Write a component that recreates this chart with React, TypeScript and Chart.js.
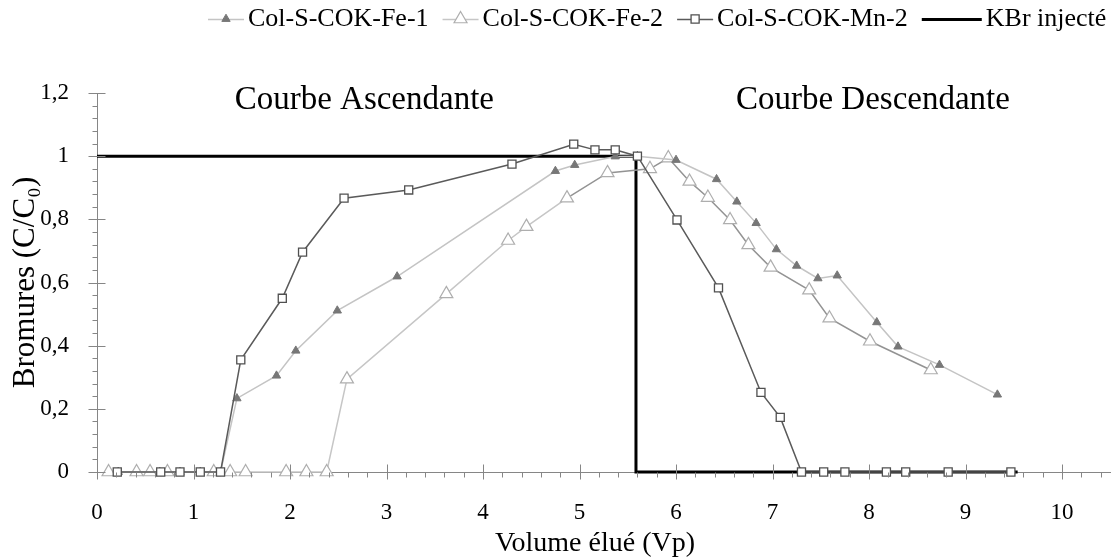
import React, { useEffect, useRef } from "react";
import { Chart, registerables } from "chart.js";

Chart.register(...registerables);

// ---- Data ----
const seriesNames = ["Col-S-COK-Fe-1", "Col-S-COK-Fe-2", "Col-S-COK-Mn-2", "KBr injecté"];

const fe1Volume = [0.22, 0.65, 0.86, 1.07, 1.28, 1.45, 1.86, 2.06, 2.49, 3.11, 4.75, 4.95, 5.37, 5.6, 6.0, 6.42, 6.63, 6.83, 7.04, 7.25, 7.47, 7.67, 8.08, 8.3, 8.73, 9.33];
const fe1Bromure = [0, 0, 0, 0, 0, 0.233, 0.305, 0.384, 0.511, 0.619, 0.953, 0.972, 0.999, 1.0, 0.988, 0.927, 0.856, 0.788, 0.705, 0.653, 0.613, 0.622, 0.474, 0.397, 0.339, 0.245];

const fe2Volume = [0.12, 0.41, 0.55, 0.73, 1.21, 1.38, 1.54, 1.96, 2.17, 2.38, 2.59, 3.62, 4.26, 4.45, 4.87, 5.29, 5.73, 5.92, 6.14, 6.33, 6.56, 6.75, 6.98, 7.38, 7.59, 8.01, 8.64];
const fe2Bromure = [0, 0, 0, 0, 0, 0, 0, 0, 0, 0, 0.294, 0.564, 0.733, 0.777, 0.867, 0.947, 0.96, 0.994, 0.92, 0.869, 0.798, 0.719, 0.648, 0.576, 0.487, 0.414, 0.323];

const mn2Volume = [0.21, 0.66, 0.86, 1.07, 1.28, 1.49, 1.92, 2.13, 2.56, 3.23, 4.3, 4.94, 5.16, 5.37, 5.6, 6.01, 6.44, 6.88, 7.08, 7.3, 7.53, 7.75, 8.18, 8.38, 8.82, 9.47];
const mn2Bromure = [0, 0, 0, 0, 0, 0.355, 0.55, 0.696, 0.867, 0.893, 0.975, 1.038, 1.02, 1.02, 1.0, 0.798, 0.583, 0.252, 0.173, 0, 0, 0, 0, 0, 0, 0];

const kbrVolume = [0, 5.585, 5.585, 9.54];
const kbrBromure = [1, 1, 0, 0];

const xTickValues = [0, 1, 2, 3, 4, 5, 6, 7, 8, 9, 10];
const yTickValues = [0, 0.2, 0.4, 0.6, 0.8, 1, 1.2];

const xAxisTitle = "Volume élué (Vp)";
const yAxisTitle = "Bromures (C/C₀)";

const annotationTexts = ["Courbe Ascendante", "Courbe Descendante"];
const annotationX = [2.77, 8.04];
const annotationY = [1.178, 1.178];

// ---- Styles ----
const FONT = "'Liberation Serif', 'Times New Roman', serif";
const AXIS_GRAY = "#868686";
const FE1_LINE = "#c4c4c4";
const FE1_MARK = "#777777";
const FE2_LINE_LIGHT = "#c6c6c6";
const FE2_LINE_DARK = "#939393";
const FE2_MARK = "#aeaeae";
const MN2_LINE = "#5a5a5a";
const MN2_MARK = "#505050";

const toPts = (xs: number[], ys: number[]) => xs.map((x, i) => ({ x, y: ys[i] }));

function drawMarker(ctx: CanvasRenderingContext2D, style: string, x: number, y: number, r: number, fill: string, stroke: string, lw: number) {
  ctx.beginPath();
  if (style === "triangle") {
    ctx.moveTo(x, y - r);
    ctx.lineTo(x + r * 0.866, y + r * 0.5);
    ctx.lineTo(x - r * 0.866, y + r * 0.5);
    ctx.closePath();
  } else {
    const s = r * Math.SQRT1_2;
    ctx.rect(x - s, y - s, 2 * s, 2 * s);
  }
  ctx.fillStyle = fill;
  ctx.fill();
  ctx.lineWidth = lw;
  ctx.strokeStyle = stroke;
  ctx.stroke();
}

const legendSymbols = [
  { line: FE1_LINE, lw: 1.5, marker: "triangle", r: 4.8, fill: FE1_MARK, stroke: FE1_MARK, mlw: 1, w: 36 },
  { line: FE2_LINE_LIGHT, lw: 1.5, marker: "triangle", r: 7.5, fill: "#ffffff", stroke: FE2_MARK, mlw: 1.2, w: 36 },
  { line: MN2_LINE, lw: 1.5, marker: "rect", r: 5.7, fill: "#ffffff", stroke: MN2_MARK, mlw: 1.3, w: 36 },
  { line: "#000000", lw: 3, marker: "", r: 0, fill: "", stroke: "", mlw: 0, w: 60 },
];

const customLegend = {
  id: "customLegend",
  afterDraw(chart: any) {
    const ctx = chart.ctx as CanvasRenderingContext2D;
    ctx.save();
    ctx.font = `26px ${FONT}`;
    ctx.textBaseline = "middle";
    ctx.textAlign = "left";
    const cy = 19;
    let x = 208;
    seriesNames.forEach((name, i) => {
      const s = legendSymbols[i];
      ctx.beginPath();
      ctx.moveTo(x, cy + 0.5);
      ctx.lineTo(x + s.w, cy + 0.5);
      ctx.strokeStyle = s.line;
      ctx.lineWidth = s.lw;
      ctx.stroke();
      if (s.marker) drawMarker(ctx, s.marker, x + s.w / 2, cy, s.r, s.fill, s.stroke, s.mlw);
      ctx.fillStyle = "#000";
      const tx = x + s.w + 4;
      ctx.fillText(name, tx, cy);
      x = tx + ctx.measureText(name).width + 14;
    });
    ctx.restore();
  },
};

const annotations = {
  id: "annotations",
  afterDraw(chart: any) {
    const ctx = chart.ctx as CanvasRenderingContext2D;
    const xs = chart.scales.x;
    const ys = chart.scales.y;
    ctx.save();
    ctx.fillStyle = "#000";
    ctx.textAlign = "center";
    ctx.textBaseline = "middle";
    ctx.font = `33px ${FONT}`;
    annotationTexts.forEach((t, i) => {
      ctx.fillText(t, xs.getPixelForValue(annotationX[i]), ys.getPixelForValue(annotationY[i]));
    });
    // x-axis title (slightly left of the plot-area centre, as in the reference)
    ctx.font = `28px ${FONT}`;
    ctx.fillText(xAxisTitle, 595, 544);
    ctx.restore();
  },
};

const axisTicks = {
  id: "axisTicks",
  afterDatasetsDraw(chart: any) {
    const ctx = chart.ctx as CanvasRenderingContext2D;
    const xs = chart.scales.x;
    const ys = chart.scales.y;
    const bottom = Math.round(ys.getPixelForValue(0)) + 0.5;
    const left = Math.round(xs.getPixelForValue(0)) + 0.5;
    ctx.save();
    ctx.strokeStyle = AXIS_GRAY;
    ctx.lineWidth = 1;
    ctx.beginPath();
    for (let i = 0; i <= 52; i++) {
      const v = i * 0.2;
      const px = Math.round(xs.getPixelForValue(v)) + 0.5;
      if (i % 5 === 0) {
        ctx.moveTo(px, bottom - 8);
        ctx.lineTo(px, bottom + 7);
      } else {
        ctx.moveTo(px, bottom);
        ctx.lineTo(px, bottom + 5);
      }
    }
    for (let j = 0; j <= 30; j++) {
      const v = j * 0.04;
      const py = Math.round(ys.getPixelForValue(v)) + 0.5;
      if (j % 5 === 0) {
        ctx.moveTo(left - 9, py);
        ctx.lineTo(left + 8, py);
      } else {
        ctx.moveTo(left - 5, py);
        ctx.lineTo(left, py);
      }
    }
    ctx.stroke();
    ctx.restore();
  },
};

export default function App() {
  const ref = useRef<HTMLCanvasElement>(null);

  useEffect(() => {
    const canvas = ref.current;
    if (!canvas) return;
    const chart = new Chart(canvas, {
      type: "line",
      data: {
        datasets: [
          {
            label: seriesNames[2],
            data: toPts(mn2Volume, mn2Bromure),
            borderColor: MN2_LINE,
            borderWidth: 1.5,
            pointStyle: "rect",
            pointRadius: 5.7,
            pointBackgroundColor: "#ffffff",
            pointBorderColor: MN2_MARK,
            pointBorderWidth: 1.3,
            tension: 0,
            clip: false,
            order: 0,
          },
          {
            label: seriesNames[0],
            data: toPts(fe1Volume, fe1Bromure),
            borderColor: FE1_LINE,
            borderWidth: 1.5,
            pointStyle: "triangle",
            pointRadius: 4.8,
            pointBackgroundColor: FE1_MARK,
            pointBorderColor: FE1_MARK,
            pointBorderWidth: 1,
            tension: 0,
            clip: false,
            order: 1,
          },
          {
            label: seriesNames[1],
            data: toPts(fe2Volume, fe2Bromure),
            borderColor: FE2_LINE_LIGHT,
            borderWidth: 1.5,
            segment: {
              borderColor: (c: any) => (c.p0.parsed.x >= 4.8 ? FE2_LINE_DARK : FE2_LINE_LIGHT),
            },
            pointStyle: "triangle",
            pointRadius: 7.5,
            pointBackgroundColor: "#ffffff",
            pointBorderColor: FE2_MARK,
            pointBorderWidth: 1.2,
            tension: 0,
            clip: false,
            order: 2,
          },
          {
            label: seriesNames[3],
            data: toPts(kbrVolume, kbrBromure),
            borderColor: "#000000",
            borderWidth: 3,
            pointRadius: 0,
            tension: 0,
            clip: false,
            order: 3,
          },
        ],
      },
      options: {
        responsive: false,
        animation: false,
        events: [],
        layout: { padding: { top: 93, right: 0, left: 0, bottom: 0 } },
        plugins: {
          legend: { display: false },
          tooltip: { enabled: false },
          title: { display: false },
        },
        scales: {
          x: {
            type: "linear",
            min: 0,
            max: 10.5,
            afterBuildTicks: (scale: any) => {
              scale.ticks = xTickValues.map((v) => ({ value: v }));
            },
            afterFit: (scale: any) => {
              scale.height = 87;
            },
            ticks: {
              color: "#000",
              font: { family: FONT, size: 23 },
              padding: 19,
              maxRotation: 0,
              autoSkip: false,
              callback: (v: any) => String(v),
            },
            grid: { display: false },
            border: { display: true, color: AXIS_GRAY, width: 1 },
            title: { display: false },
          },
          y: {
            type: "linear",
            min: 0,
            max: 1.2,
            afterBuildTicks: (scale: any) => {
              scale.ticks = yTickValues.map((v) => ({ value: v }));
            },
            afterFit: (scale: any) => {
              scale.width = 97;
            },
            ticks: {
              color: "#000",
              font: { family: FONT, size: 23 },
              padding: 20,
              autoSkip: false,
              callback: (v: any) => String(Math.round(Number(v) * 10) / 10).replace(".", ","),
            },
            grid: { display: false },
            border: { display: true, color: AXIS_GRAY, width: 1 },
            title: {
              display: true,
              text: yAxisTitle,
              color: "#000",
              font: { family: FONT, size: 31, lineHeight: 1 },
              padding: { top: 10, bottom: 0 },
            },
          },
        },
      },
      plugins: [axisTicks, annotations, customLegend],
    } as any);
    return () => chart.destroy();
  }, []);

  return (
    <div style={{ position: "fixed", left: 0, top: 0, width: 1119, height: 559, background: "#ffffff" }}>
      <canvas ref={ref} width={1119} height={559} style={{ display: "block", width: 1119, height: 559 }} />
    </div>
  );
}
